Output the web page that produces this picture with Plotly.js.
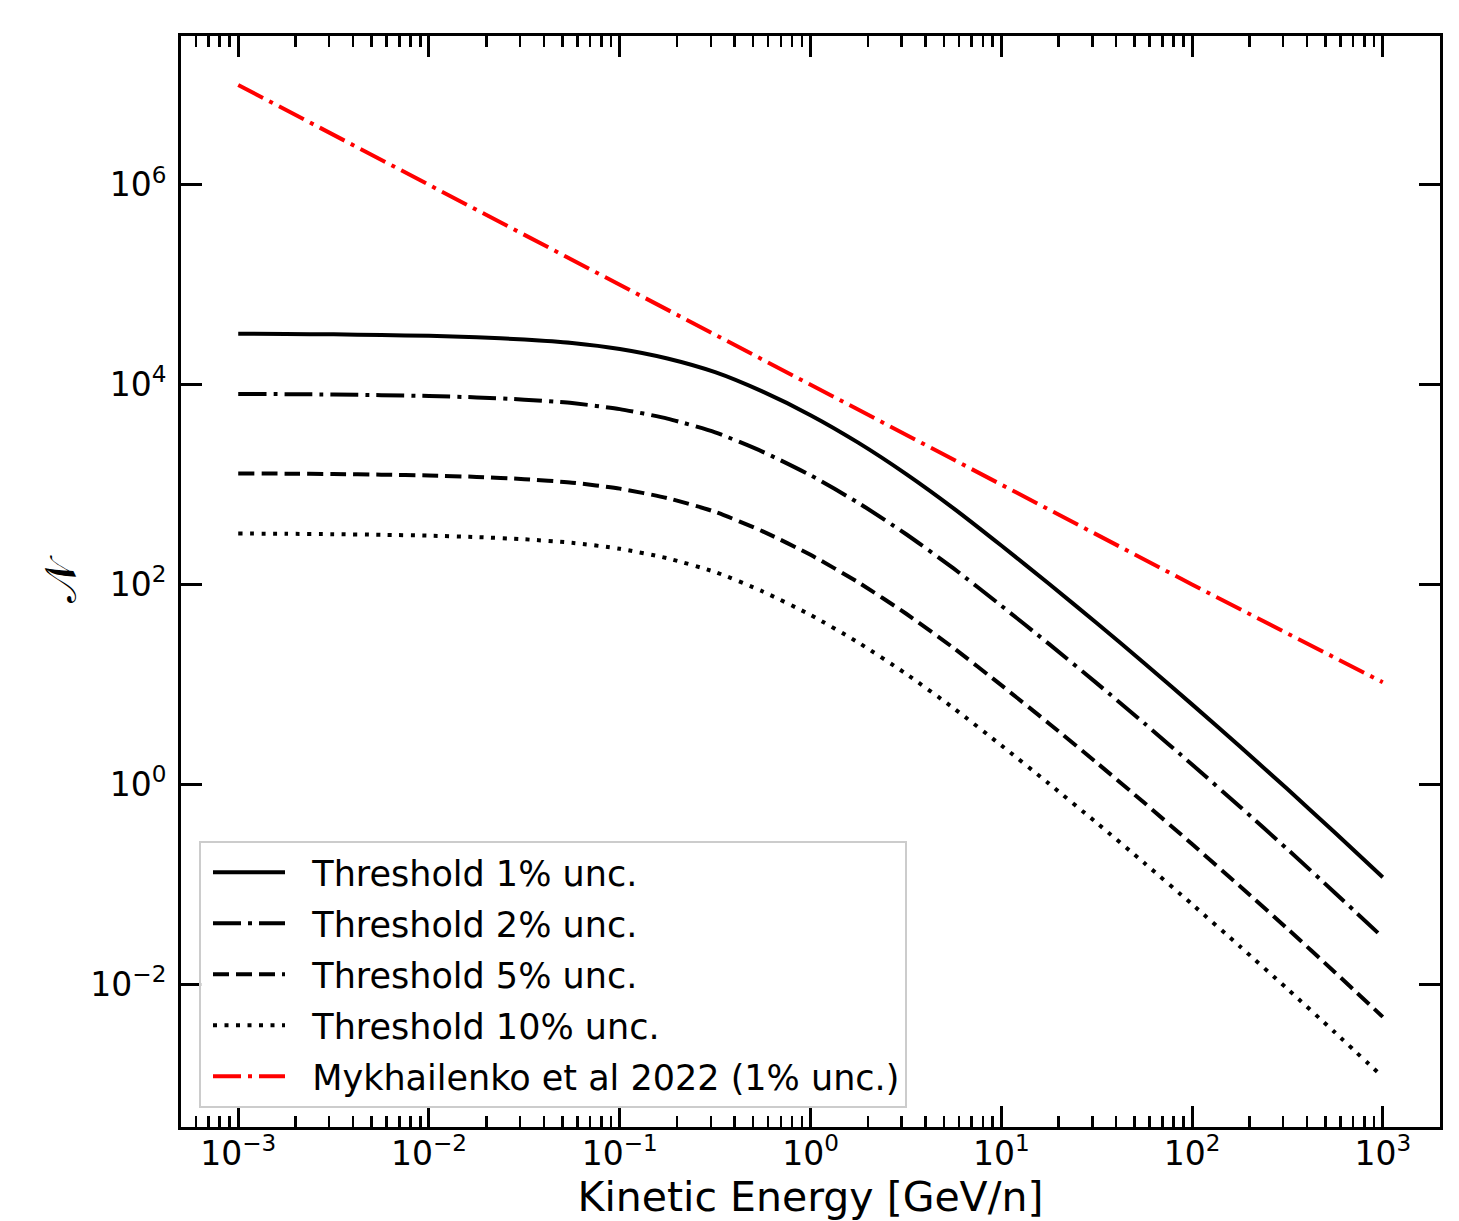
<!DOCTYPE html>
<html>
<head>
<meta charset="utf-8">
<script src="https://cdn.plot.ly/plotly-3.0.1.min.js"></script>
<style>html,body{margin:0;padding:0;background:#fff;}#chart{width:1459px;height:1221px;}</style>
</head>
<body>
<div id="chart"></div>
<script>
const energy = [1e-3, 1.778e-3, 3.162e-3, 5.623e-3, 1e-2, 1.778e-2, 3.162e-2, 5.623e-2, 0.1, 0.1778, 0.3162, 0.5623,
                1, 1.778, 3.162, 5.623, 10, 17.78, 31.62, 56.23, 100, 177.8, 316.2, 562.3, 1000];

const thr1  = [3.236e4, 3.217e4, 3.190e4, 3.144e4, 3.082e4, 2.985e4, 2.834e4, 2.615e4, 2.278e4, 1.830e4, 1.334e4, 8.51e3,
               4.955e3, 2.630e3, 1.281e3, 578.8, 245.5, 101.7, 41.21, 16.31, 6.310, 2.399, 0.8963, 0.3273, 0.1175];
const thr2  = [8.09e3, 8.04e3, 7.975e3, 7.86e3, 7.705e3, 7.46e3, 7.085e3, 6.54e3, 5.695e3, 4.576e3, 3.334e3, 2.128e3,
               1.239e3, 657.5, 320.3, 144.7, 61.38, 25.43, 10.30, 4.078, 1.578, 0.5998, 0.2241, 0.0818, 0.0294];
const thr5  = [1294, 1287, 1276, 1258, 1233, 1194, 1134, 1046, 911.1, 732.1, 533.3, 340.4,
               198.2, 105.2, 51.24, 23.15, 9.82, 4.068, 1.648, 0.6524, 0.2524, 0.09596, 0.03585, 0.01309, 0.0047];
const thr10 = [323.6, 321.7, 319.0, 314.4, 308.2, 298.5, 283.4, 261.5, 227.8, 183.0, 133.4, 85.1,
               49.55, 26.30, 12.81, 5.788, 2.455, 1.017, 0.4121, 0.1631, 0.0631, 0.02399, 0.008963, 0.003273, 0.001175];

const mykhEnergy = [1e-3, 1e-2, 1e-1, 1, 10, 100, 1000];
const mykh = [1e7, 1e6, 1e5, 1e4, 1e3, 1e2, 10.5];

const seriesNames = ['Threshold 1% unc.', 'Threshold 2% unc.', 'Threshold 5% unc.', 'Threshold 10% unc.', 'Mykhailenko et al 2022 (1% unc.)'];

const xTickVals = [1e-3, 1e-2, 1e-1, 1, 10, 100, 1000];
const xTickText = ['10<sup>−3</sup>', '10<sup>−2</sup>', '10<sup>−1</sup>', '10<sup>0</sup>', '10<sup>1</sup>', '10<sup>2</sup>', '10<sup>3</sup>'];
const yTickVals = [1e-2, 1, 1e2, 1e4, 1e6];
const yTickText = ['10<sup>−2</sup>', '10<sup>0</sup>', '10<sup>2</sup>', '10<sup>4</sup>', '10<sup>6</sup>'];

const LW = 4;
const PAD = '\u00a0\u00a0';
function tr(y, idx, dash, color, x, spline) {
  return {
    x: x, y: y, name: PAD + seriesNames[idx], legendgroup: 'g' + idx, type: 'scatter', mode: 'lines',
    line: {color: color, width: LW, dash: dash, shape: spline ? 'spline' : 'linear', smoothing: 0.6},
    hoverinfo: 'skip'
  };
}

const data = [
  tr(thr1, 0, 'solid', '#000000', energy, true),
  tr(thr2, 1, '28px,7px,4px,7px', '#000000', energy, true),
  tr(thr5, 2, '16px,7px', '#000000', energy, true),
  tr(thr10, 3, '4px,7.5px', '#000000', energy, true),
  tr(mykh, 4, '28px,7px,4px,7px', '#ff0000', mykhEnergy, false)
];

const font = 'DejaVu Sans, Liberation Sans, sans-serif';

const layout = {
  width: 1459, height: 1221,
  margin: {l: 181, r: 19, t: 36, b: 94, pad: 0},
  paper_bgcolor: '#ffffff', plot_bgcolor: '#ffffff',
  font: {family: font, color: '#000000', size: 33},
  showlegend: true,
  legend: {
    x: 0.0143, y: 0.0174, xanchor: 'left', yanchor: 'bottom',
    bgcolor: 'rgba(255,255,255,0.85)', bordercolor: '#cccccc', borderwidth: 2,
    font: {family: font, size: 35, color: '#000000'},
    itemwidth: 72, indentation: 7, tracegroupgap: 2.5
  },
  xaxis: {
    type: 'log', range: [-3.3, 3.3],
    tickmode: 'array', tickvals: xTickVals, ticktext: xTickText,
    ticks: 'inside', ticklen: 21, tickwidth: 3, tickcolor: '#000000',
    showline: true, linewidth: 3, linecolor: '#000000', mirror: 'ticks',
    showgrid: false, zeroline: false, ticklabelstandoff: -5,
    tickfont: {family: font, size: 33, color: '#000000'},
    minor: {tickmode: 'linear', dtick: 'D1', ticks: 'inside', ticklen: 11, tickwidth: 2.5, tickcolor: '#000000', showgrid: false},
    title: {text: 'Kinetic Energy [GeV/n]', font: {family: font, size: 41, color: '#000000'}, standoff: 14}
  },
  yaxis: {
    type: 'log', range: [-3.43, 7.49],
    tickmode: 'array', tickvals: yTickVals, ticktext: yTickText,
    ticks: 'inside', ticklen: 21, tickwidth: 3, tickcolor: '#000000',
    showline: true, linewidth: 3, linecolor: '#000000', mirror: 'ticks',
    showgrid: false, zeroline: false, ticklabelstandoff: 5,
    tickfont: {family: font, size: 33, color: '#000000'},
    title: {text: '𝒩', font: {family: font, size: 44, color: '#000000'}, standoff: 0}
  }
};

Plotly.newPlot('chart', data, layout, {staticPlot: true, displayModeBar: false});
</script>
</body>
</html>
